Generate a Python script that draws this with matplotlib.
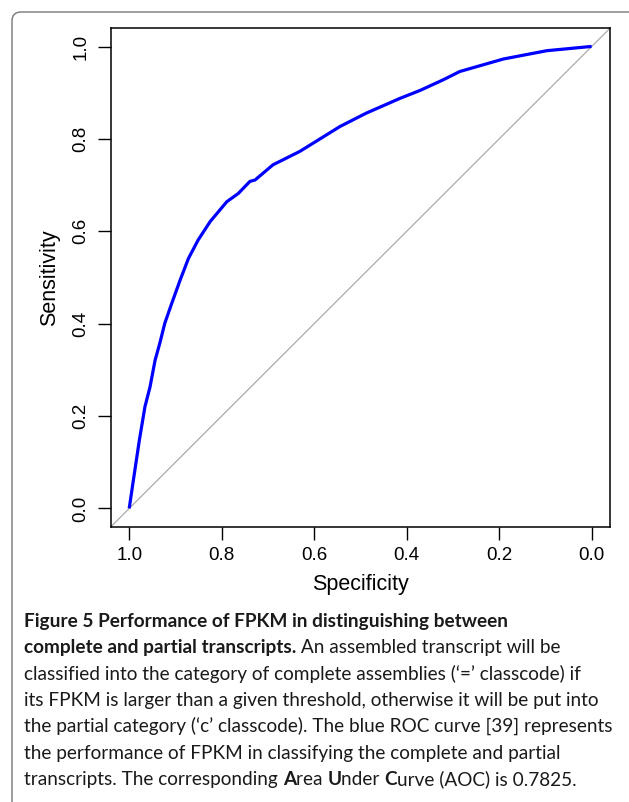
import numpy as np
import matplotlib.pyplot as plt
from matplotlib.patches import FancyBboxPatch
from matplotlib.transforms import IdentityTransform

# ROC curve points (specificity, sensitivity)
specificity = [1.000, 0.991, 0.978, 0.966, 0.955, 0.944, 0.934, 0.923, 0.908,
               0.890, 0.872, 0.851, 0.825, 0.789, 0.764, 0.739, 0.728, 0.689,
               0.631, 0.544, 0.487, 0.414, 0.371, 0.321, 0.285, 0.191, 0.097,
               0.003, 0.000]
sensitivity = [0.000, 0.061, 0.148, 0.220, 0.263, 0.321, 0.357, 0.401, 0.444,
               0.494, 0.541, 0.581, 0.621, 0.664, 0.682, 0.708, 0.711, 0.744,
               0.773, 0.827, 0.856, 0.888, 0.905, 0.928, 0.946, 0.973, 0.991,
               1.000, 1.000]
tick_values = [0.0, 0.2, 0.4, 0.6, 0.8, 1.0]
tick_labels = ['0.0', '0.2', '0.4', '0.6', '0.8', '1.0']

# caption: list of lines, each a list of (text, bold) pieces
caption = [
    [('Figure 5 Performance of FPKM in distinguishing between', True)],
    [('complete and partial transcripts.', True), (' An assembled transcript will be', False)],
    [('classified into the category of complete assemblies (\u2018=\u2019 classcode) if', False)],
    [('its FPKM is larger than a given threshold, otherwise it will be put into', False)],
    [('the partial category (\u2018c\u2019 classcode). The blue ROC curve [39] represents', False)],
    [('the performance of FPKM in classifying the complete and partial', False)],
    [('transcripts. The corresponding ', False), ('A', True), ('rea ', False), ('U', True),
     ('nder ', False), ('C', True), ('urve (AOC) is 0.7825.', False)],
]

plt.rcParams['font.family'] = ['Liberation Sans', 'DejaVu Sans']

fig = plt.figure(figsize=(6.29, 8.02), dpi=100)
ax = fig.add_axes([0.176, 0.343, 0.794, 0.622])

ax.axline((1.0, 0.0), (0.0, 1.0), color='#aaaaaa', lw=0.9)
ax.plot(specificity, sensitivity, color='#0000ff', lw=2.3, solid_capstyle='butt')

ax.set_xlim(1.04, -0.04)
ax.set_ylim(-0.04, 1.04)
ax.set_xticks(tick_values)
ax.set_xticklabels(tick_labels, fontsize=13.5)
ax.set_yticks(tick_values)
ax.set_yticklabels(tick_labels, fontsize=13.5, rotation=90, va='center')
ax.tick_params(direction='out', length=9.5, width=1, pad=5)
ax.tick_params(axis='y', pad=6)
for s in ax.spines.values():
    s.set_linewidth(1.1)
ax.set_xlabel('Specificity', fontsize=15.5, labelpad=7)
ax.set_ylabel('Sensitivity', fontsize=15.5, labelpad=9)

# rounded frame around the figure panel (cropped on right and bottom)
frame = FancyBboxPatch((12, -30), 660, 820, boxstyle='round,pad=0,rounding_size=9',
                       transform=IdentityTransform(), fill=False, ec='#777777', lw=1.0)
fig.add_artist(frame)

# caption, fitted so the widest line spans the panel
renderer = fig.canvas.get_renderer()
cap_font = ['Lato', 'DejaVu Sans']
probe = fig.text(0, 0, caption[4][0][0], fontsize=12, family=cap_font)
w = probe.get_window_extent(renderer).width
probe.remove()
cap_size = 12 * 586.0 / w

x0 = 24
base0 = 802 - 627
step = 26.3
for i, line in enumerate(caption):
    x = x0
    y = base0 - i * step
    for txt, bold in line:
        weight = 'bold' if bold else 'normal'
        fig.text(x, y, txt, transform=IdentityTransform(), fontsize=cap_size,
                 family=cap_font, fontweight=weight,
                 va='baseline', ha='left', color='#1a1a1a')
        # width including spaces: measure with a guard character
        g = fig.text(0, 0, txt + '|', fontsize=cap_size, family=cap_font, fontweight=weight)
        gb = fig.text(0, 0, '|', fontsize=cap_size, family=cap_font, fontweight=weight)
        x += g.get_window_extent(renderer).width - gb.get_window_extent(renderer).width
        g.remove()
        gb.remove()

fig.savefig('out.png', dpi=100)
